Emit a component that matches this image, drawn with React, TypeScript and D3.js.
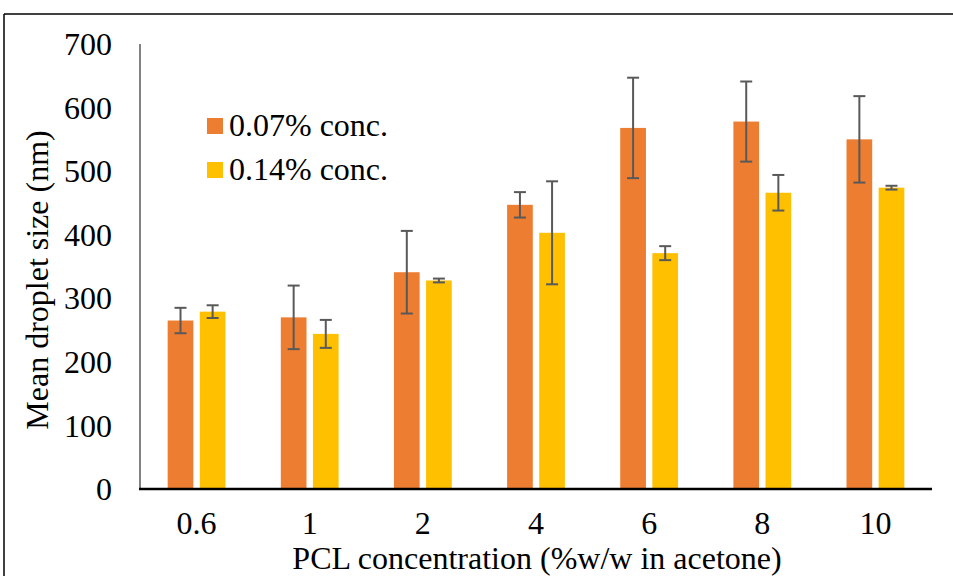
import React from "react";
import * as d3 from "d3";

const categories = ["0.6", "1", "2", "4", "6", "8", "10"];
const seriesNames = ["0.07% conc.", "0.14% conc."];
const meanLow = [265, 270, 341, 447, 568, 578, 550];
const errLow = [20, 50, 65, 20, 79, 63, 68];
const meanHigh = [279, 244, 328, 403, 371, 466, 474];
const errHigh = [10, 22, 3, 81, 11, 28, 3];
const yTicks = [0, 100, 200, 300, 400, 500, 600, 700];
const colors = ["#ED7D31", "#FFC000"];

const W = 953;
const H = 576;
const FONT = "Liberation Serif, Times New Roman, serif";

export default function App() {
  const x0 = d3
    .scaleBand<string>()
    .domain(categories)
    .range([140, 932])
    .paddingInner(0.489)
    .paddingOuter(0.2445);
  const x1 = d3
    .scaleBand<string>()
    .domain(seriesNames)
    .range([0, x0.bandwidth()])
    .paddingInner(0.2)
    .paddingOuter(0);
  const y = d3.scaleLinear().domain([0, 700]).range([489, 44]);

  const series = [
    { name: seriesNames[0], mean: meanLow, err: errLow, color: colors[0] },
    { name: seriesNames[1], mean: meanHigh, err: errHigh, color: colors[1] },
  ];

  const capHalf = 6;

  return (
    <svg
      width={W}
      height={H}
      style={{ position: "absolute", left: 0, top: 0, background: "#fff" }}
      fontFamily={FONT}
    >
      <rect x={0} y={0} width={W} height={H} fill="#fff" />
      {/* frame edges */}
      <line x1={4} y1={14} x2={W} y2={14} stroke="#000" strokeWidth={1.5} />
      <line x1={4} y1={14} x2={4} y2={H} stroke="#000" strokeWidth={1.5} />

      {/* bars */}
      {series.map((s) => (
        <g key={s.name}>
          {categories.map((c, i) => {
            const bx = (x0(c) ?? 0) + (x1(s.name) ?? 0);
            return (
              <rect
                key={c}
                x={bx}
                y={y(s.mean[i])}
                width={x1.bandwidth()}
                height={y(0) - y(s.mean[i])}
                fill={s.color}
              />
            );
          })}
        </g>
      ))}

      {/* error bars */}
      {series.map((s) => (
        <g key={s.name + "-err"} stroke="#595959" strokeWidth={2}>
          {categories.map((c, i) => {
            const cx = (x0(c) ?? 0) + (x1(s.name) ?? 0) + x1.bandwidth() / 2;
            const top = y(s.mean[i] + s.err[i]);
            const bot = y(s.mean[i] - s.err[i]);
            return (
              <g key={c}>
                <line x1={cx} x2={cx} y1={top} y2={bot} />
                <line x1={cx - capHalf} x2={cx + capHalf} y1={top} y2={top} />
                <line x1={cx - capHalf} x2={cx + capHalf} y1={bot} y2={bot} />
              </g>
            );
          })}
        </g>
      ))}

      {/* axes */}
      <line x1={140} y1={y(700)} x2={140} y2={y(0)} stroke="#595959" strokeWidth={1.5} />
      <line x1={139} y1={y(0)} x2={932} y2={y(0)} stroke="#000" strokeWidth={2.5} />

      {yTicks.map((t) => (
        <text
          key={t}
          x={112}
          y={y(t)}
          dy="0.35em"
          textAnchor="end"
          fontSize={32}
          fill="#000"
        >
          {t}
        </text>
      ))}

      {categories.map((c) => (
        <text
          key={c}
          x={(x0(c) ?? 0) + x0.bandwidth() / 2}
          y={534}
          textAnchor="middle"
          fontSize={32}
          fill="#000"
        >
          {c}
        </text>
      ))}

      <text x={537} y={569} textAnchor="middle" fontSize={32} fill="#000">
        PCL concentration (%w/w in acetone)
      </text>
      <text
        transform={`translate(48, 280) rotate(-90)`}
        textAnchor="middle"
        fontSize={32}
        fill="#000"
      >
        Mean droplet size (nm)
      </text>

      {/* legend */}
      {series.map((s, i) => (
        <g key={s.name + "-leg"} transform={`translate(207, ${118 + i * 44})`}>
          <rect x={0} y={0} width={16} height={16} fill={s.color} />
          <text x={22} y={18} fontSize={32} fill="#000">
            {s.name}
          </text>
        </g>
      ))}
    </svg>
  );
}
